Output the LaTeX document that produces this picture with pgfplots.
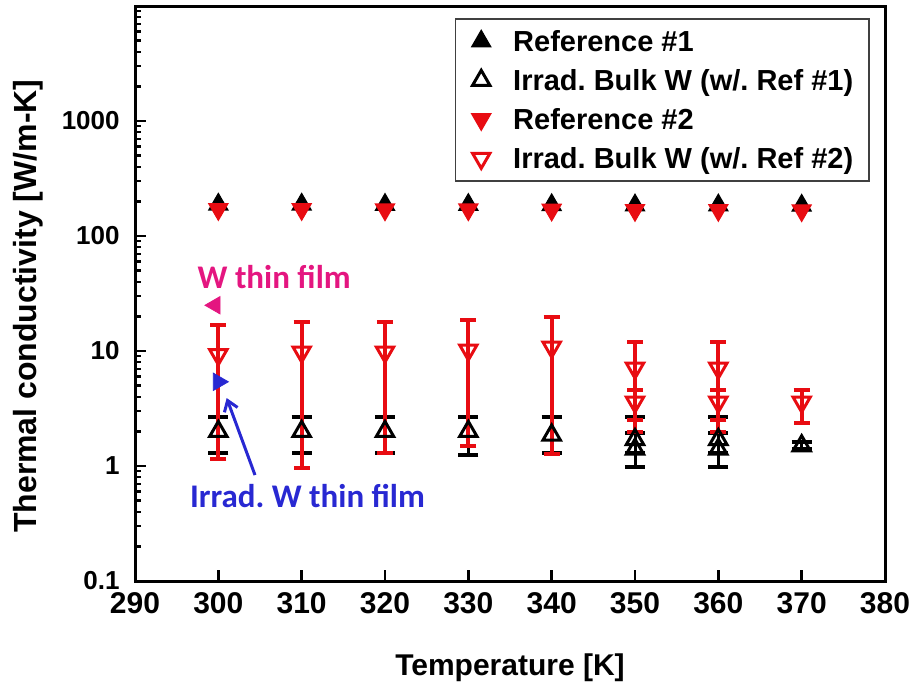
\documentclass[border=0pt]{standalone}
\usepackage{pgfplots}
\pgfplotsset{compat=1.18}
\usepackage{pgfplotstable}
\usetikzlibrary{calc,arrows.meta}
\usepackage{fontspec}
\setmainfont{Liberation Sans}
\newfontfamily\annfont{Carlito}
\frenchspacing

\definecolor{mred}{RGB}{232,12,18}
\definecolor{mmag}{RGB}{228,22,128}
\definecolor{mblue}{RGB}{40,40,210}

% Reference values
\pgfplotstableread{
x   y
300 188
310 188
320 187
330 187
340 186
350 185
360 185
370 184
}\refone
\pgfplotstableread{
x   y
300 171
310 171
320 170
330 170
340 169
350 168
360 168
370 167
}\reftwo
% Irradiated bulk W: value, lower and upper limit
\pgfplotstableread{
x   y    lo    hi
300 2.00 1.30  2.67
310 2.00 1.30  2.65
320 2.00 1.30  2.65
330 2.00 1.25  2.65
340 1.86 1.30  2.67
350 1.70 1.30  2.67
350 1.40 0.98  1.95
360 1.70 1.30  2.67
360 1.40 0.98  1.95
370 1.50 1.42  1.62
}\bulkone
\pgfplotstableread{
x   y     lo    hi
300 9.3   1.15  16.8
310 9.8   0.96  17.9
320 9.8   1.30  17.9
330 10.2  1.49  18.6
340 10.8  1.27  19.8
350 7.1   1.98  12.0
350 3.6   2.50  4.6
360 7.1   1.98  12.0
360 3.6   2.50  4.6
370 3.6   2.37  4.6
}\bulktwo

\begin{document}
\begin{tikzpicture}
\begin{axis}[
  name=ax,
  scale only axis, width=375pt, height=287.5pt,
  xmin=290, xmax=380,
  ymode=log, ymin=0.1, ymax=10000,
  xtick={290,300,...,380},
  ytick={0.1,1,10,100,1000,10000},
  yticklabels={0.1,1,10,100,1000,{}},
  minor ytick={0.2,0.3,0.4,0.5,0.6,0.7,0.8,0.9,2,3,4,5,6,7,8,9,20,30,40,50,60,70,80,90,200,300,400,500,600,700,800,900,2000,3000,4000,5000,6000,7000,8000,9000},
  axis line style={line width=1.5pt},
  tick align=inside, tick pos=left,
  major tick length=5.5pt, minor tick length=3pt,
  every tick/.style={black, line width=1.2pt},
  /pgf/number format/assume math mode=true,
  /pgf/number format/1000 sep={},
  xticklabel style={font=\bfseries\fontsize{15}{18}\selectfont, inner sep=0pt, anchor=north, yshift=-5.5pt},
  yticklabel style={font=\bfseries\fontsize{13}{16}\selectfont, inner sep=0pt, anchor=east, xshift=-7.5pt},
  xlabel={Temperature [K]},
  ylabel={Thermal conductivity [W/m-K]},
  xlabel style={font=\bfseries\fontsize{15}{18}\selectfont, at={(axis description cs:0.5,-0.1635)}, anchor=base},
  ylabel style={font=\bfseries\fontsize{16}{19}\selectfont, at={(axis description cs:-0.1307,0.478)}, anchor=base},
  legend style={at={(0.98,0.979)}, anchor=north east, draw=black!75, line width=0.75pt,
    font=\bfseries\fontsize{14.5}{17}\selectfont, inner xsep=8pt, inner ysep=1.5pt,
    nodes={inner sep=0pt, text height=15pt, text depth=4.5pt}},
  legend cell align=left,
  legend image code/.code={
    \path[draw=none, fill=none] (-4pt,-9.75pt) rectangle (16pt,9.75pt);
    \draw plot coordinates {(0pt,0pt)};
  },
  error bars/y dir=both, error bars/y explicit,
]
% Reference #1
\addplot[only marks, mark=triangle*, mark size=5.5pt, black, fill=black, line width=0.6pt]
  table[x=x, y=y] {\refone};
\addlegendentry{Reference \#1}
% Irradiated bulk W, with Reference #1
\addplot[only marks, mark=triangle, mark size=5pt, black, line width=1.5pt,
  error bars/.cd, error bar style={line width=1.5pt, black},
  error mark=|, error mark options={line width=2pt, mark size=5pt, black}]
  table[x=x, y=y, y error plus expr=\thisrow{hi}-\thisrow{y}, y error minus expr=\thisrow{y}-\thisrow{lo}] {\bulkone};
\addlegendentry{Irrad. Bulk W (w/. Ref \#1)}
% Reference #2
\addplot[only marks, mark=triangle*, mark size=5.5pt, mred, fill=mred, line width=0.6pt, mark options={rotate=180}]
  table[x=x, y=y] {\reftwo};
\addlegendentry{Reference \#2}
% Irradiated bulk W, with Reference #2
\addplot[only marks, mark=triangle, mark size=5pt, mred, line width=1.5pt, mark options={rotate=180},
  error bars/.cd, error bar style={line width=2pt, mred},
  error mark=|, error mark options={line width=2pt, mark size=4pt, mred}]
  table[x=x, y=y, y error plus expr=\thisrow{hi}-\thisrow{y}, y error minus expr=\thisrow{y}-\thisrow{lo}] {\bulktwo};
\addlegendentry{Irrad. Bulk W (w/. Ref \#2)}
% thin film values
\addplot[only marks, forget plot, mark=triangle*, mark size=5pt, mmag, fill=mmag, mark options={rotate=90}]
  coordinates {(299.6,25)};
\addplot[only marks, forget plot, mark=triangle*, mark size=5pt, mblue, fill=mblue, mark options={rotate=-90}]
  coordinates {(300.0,5.4)};
\node[text=mmag, font=\annfont\bfseries\fontsize{16.5}{19}\selectfont] at (axis cs:306.7,44) {W thin film};
\node[text=mblue, font=\annfont\bfseries\fontsize{16.5}{19}\selectfont] at (axis cs:310.7,0.55) {Irrad. W thin film};
\draw[mblue, line width=1.5pt, -{Straight Barb[length=5pt,width=7pt]}] (axis cs:304.4,0.835) -- (axis cs:301.0,3.9);
\end{axis}
\pgfresetboundingbox
\path[use as bounding box] ($(ax.south west)+(-67.5pt,-51pt)$) rectangle ($(ax.north east)+(13.5pt,3pt)$);
\end{tikzpicture}
\end{document}
